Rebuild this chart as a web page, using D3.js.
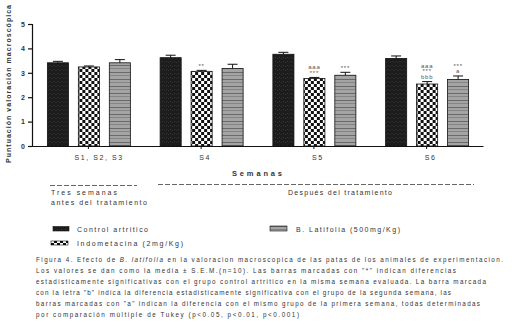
<!DOCTYPE html>
<html><head><meta charset="utf-8">
<script src="https://cdn.jsdelivr.net/npm/d3@7"></script>
<style>
body{margin:0;background:#fff;}
svg{font-family:"Liberation Sans",Arial,sans-serif;}
</style></head>
<body><svg id="c" width="512" height="332"></svg>
<script>
const weeks = ["S1, S2, S3", "S4", "S5", "S6"];
const seriesNames = ["Control artritico", "Indometacina (2mg/Kg)", "B. Latifolia (500mg/Kg)"];
const controlMean = [3.41, 3.62, 3.76, 3.59];
const indoMean = [3.24, 3.06, 2.77, 2.54];
const latiMean = [3.41, 3.18, 2.90, 2.73];
const controlSem = [0.06, 0.10, 0.08, 0.10];
const indoSem = [0.04, 0.04, 0.04, 0.10];
const latiSem = [0.13, 0.17, 0.12, 0.14];
const controlMarks = ["", "", "", ""];
const indoMarks = ["", "**", "aaa|***", "aaa|***|bbb"];
const latiMarks = ["", "", "***", "***|a"];
const yTicks = [0, 1, 2, 3, 4, 5];
const captionLines = [
  "Figura 4. Efecto de |B. latifolia| en la valoracion macroscopica de las patas de los animales de experimentacion.",
  "Los valores se dan como la media ± S.E.M.(n=10). Las barras marcadas con \"*\" indican diferencias",
  "estadisticamente significativas con el grupo control artritico en la misma semana evaluada. La barra marcada",
  "con la letra \"b\" indica la diferencia estadisticamente significativa con el grupo de la segunda semana, las",
  "barras marcadas con \"a\" indican la diferencia con el mismo grupo de la primera semana, todas determinadas",
  "por comparación múltiple de Tukey (p<0.05, p<0.01, p<0.001)"
];
const captionWidths = [467, 420, 450, 415, 444, 263];

const means = [controlMean, indoMean, latiMean];
const sems = [controlSem, indoSem, latiSem];
const marks = [controlMarks, indoMarks, latiMarks];

const svg = d3.select("#c");
const defs = svg.append("defs");
// control: dark speckle
const p0 = defs.append("pattern").attr("id","pat0").attr("patternUnits","userSpaceOnUse").attr("width",4).attr("height",4);
p0.append("rect").attr("width",4).attr("height",4).attr("fill","#1c1c1c");
p0.append("rect").attr("x",1).attr("y",1).attr("width",1).attr("height",1).attr("fill","#3a3a3a");
p0.append("rect").attr("x",3).attr("y",2).attr("width",1).attr("height",1).attr("fill","#333");
// indometacina: checkerboard
const p1 = defs.append("pattern").attr("id","pat1").attr("patternUnits","userSpaceOnUse").attr("width",6).attr("height",6);
p1.append("rect").attr("width",6).attr("height",6).attr("fill","#fff");
p1.append("rect").attr("width",3).attr("height",3).attr("fill","#111");
p1.append("rect").attr("x",3).attr("y",3).attr("width",3).attr("height",3).attr("fill","#111");
// latifolia: gray with horizontal lines
const p2 = defs.append("pattern").attr("id","pat2").attr("patternUnits","userSpaceOnUse").attr("width",4).attr("height",7);
p2.append("rect").attr("width",4).attr("height",7).attr("fill","#a4a4a4");
p2.append("rect").attr("y",2).attr("width",4).attr("height",1).attr("fill","#6a6a6a");
p2.append("rect").attr("y",5).attr("width",4).attr("height",1).attr("fill","#858585");
const fills = ["url(#pat0)","url(#pat1)","url(#pat2)"];

const y = d3.scaleLinear().domain([0,5]).range([146,24]);
const x0 = d3.scaleBand().domain(weeks).range([32,483]).padding(0);
const x1 = d3.scaleBand().domain(d3.range(3)).range([-41,42]).paddingInner(0.32).paddingOuter(0);

// Axes
const yAxis = svg.append("g").attr("transform","translate(32,0)")
  .call(d3.axisLeft(y).tickValues(yTicks).tickSize(4).tickPadding(3).tickFormat(d3.format("d")));
yAxis.select(".domain").attr("stroke","#111").attr("stroke-width",1.2);
yAxis.selectAll(".tick line").attr("stroke","#111").attr("stroke-width",1.2);
yAxis.selectAll("text").attr("font-size",7).attr("font-weight","bold").attr("fill","#333");

const xAxis = svg.append("g").attr("transform","translate(0,146)")
  .call(d3.axisBottom(x0).tickSize(3).tickSizeOuter(0).tickPadding(6));
xAxis.select(".domain").attr("stroke","#111").attr("stroke-width",1);
xAxis.selectAll(".tick line").attr("stroke","#111");
xAxis.selectAll("text").attr("font-size",7).attr("fill","#333").attr("letter-spacing",1.6)
  .attr("text-anchor","start").attr("dx", d => d.length > 3 ? -14 : -2);

// Bars
const groups = svg.append("g").selectAll("g").data(weeks).join("g")
  .attr("transform", d => `translate(${x0(d)+x0.bandwidth()/2},0)`);
groups.each(function(w, wi){
  const g = d3.select(this);
  for (let s = 0; s < 3; s++) {
    const v = means[s][wi], e = sems[s][wi];
    const bx = x1(s), bw = x1.bandwidth();
    g.append("rect").attr("x",bx).attr("y",y(v)).attr("width",bw).attr("height",y(0)-y(v))
      .attr("fill",fills[s]).attr("stroke","#111").attr("stroke-width",0.8);
    const cx = bx + bw/2;
    g.append("line").attr("x1",cx).attr("x2",cx).attr("y1",y(v)).attr("y2",y(v+e)).attr("stroke","#111").attr("stroke-width",1);
    g.append("line").attr("x1",cx-5).attr("x2",cx+5).attr("y1",y(v+e)).attr("y2",y(v+e)).attr("stroke","#111").attr("stroke-width",1);
    const m = marks[s][wi];
    if (m) {
      const lines = m.split("|");
      lines.forEach((t, i) => {
        g.append("text").attr("x",cx).attr("y", y(v+e) - 2.5 - (lines.length-1-i)*5.7)
          .attr("text-anchor","middle").attr("font-size",6).attr("fill","#555").attr("letter-spacing",0.8)
          .text(t);
      });
    }
  }
});

// Y label
svg.append("text").attr("transform","translate(11,84) rotate(-90)").attr("text-anchor","middle")
  .attr("font-size",7).attr("fill","#333").attr("font-weight","bold")
  .attr("textLength",158).attr("lengthAdjust","spacing")
  .text("Puntuación valoración macroscópica");

// X title
svg.append("text").attr("x",257).attr("y",176).attr("text-anchor","middle").attr("font-size",7.5)
  .attr("font-weight","bold").attr("fill","#333").attr("textLength",50).attr("lengthAdjust","spacing").text("Semanas");

// Dashed brackets
svg.append("line").attr("x1",50).attr("x2",137).attr("y1",185.5).attr("y2",185.5)
  .attr("stroke","#666").attr("stroke-width",1).attr("stroke-dasharray","5,2");
svg.append("line").attr("x1",158).attr("x2",474).attr("y1",184.5).attr("y2",184.5)
  .attr("stroke","#666").attr("stroke-width",1).attr("stroke-dasharray","5,2");
svg.append("text").attr("x",51).attr("y",195).attr("font-size",7).attr("fill","#333")
  .attr("textLength",66).attr("lengthAdjust","spacing").text("Tres semanas");
svg.append("text").attr("x",51).attr("y",205).attr("font-size",7).attr("fill","#333")
  .attr("textLength",96).attr("lengthAdjust","spacing").text("antes del tratamiento");
svg.append("text").attr("x",288).attr("y",195).attr("font-size",7).attr("fill","#333")
  .attr("textLength",104).attr("lengthAdjust","spacing").text("Después del tratamiento");

// Legend
const legendPos = [{sx:53,sy:226.5,sw:16,sh:4.5,tx:77,ty:232,tw:71},
                   {sx:51,sy:241,sw:17,sh:4,tx:77,ty:246,tw:106},
                   {sx:270,sy:226,sw:17,sh:5,tx:296,ty:232,tw:104}];
seriesNames.forEach((n, i) => {
  const p = legendPos[i];
  svg.append("rect").attr("x",p.sx).attr("y",p.sy).attr("width",p.sw).attr("height",p.sh)
    .attr("fill",fills[i]).attr("stroke","#111").attr("stroke-width",0.6);
  svg.append("text").attr("x",p.tx).attr("y",p.ty).attr("font-size",7).attr("fill","#333")
    .attr("textLength",p.tw).attr("lengthAdjust","spacing").text(n);
});

// Caption
captionLines.forEach((line, i) => {
  const t = svg.append("text").attr("x",36).attr("y",262 + i*10.9).attr("font-size",6.3).attr("fill","#333")
    .attr("textLength",captionWidths[i]).attr("lengthAdjust","spacing");
  line.split("|").forEach((part, j) => {
    t.append("tspan").attr("font-style", j % 2 === 1 ? "italic" : null).text(part);
  });
});
</script></body></html>
